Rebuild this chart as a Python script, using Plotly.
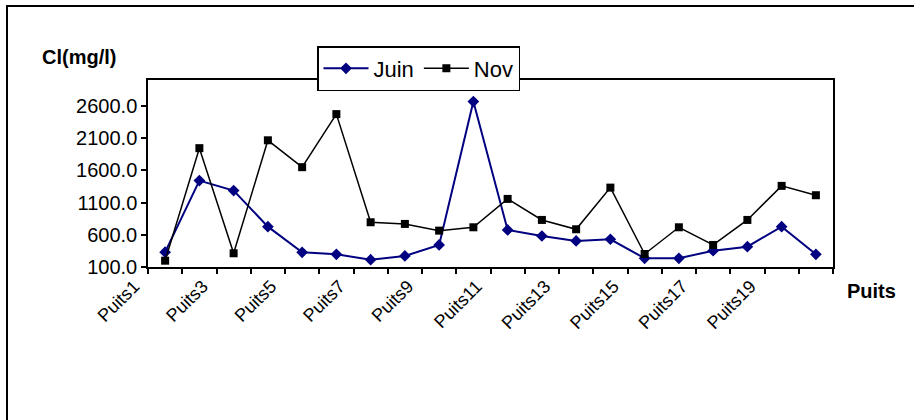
import plotly.graph_objects as go

# Chloride concentration (mg/l) per well, June and November campaigns
puits = [f"Puits{i}" for i in range(1, 21)]
juin = [330, 1440, 1285, 726, 328, 297, 213, 271, 442, 2665,
        675, 581, 504, 530, 235, 235, 353, 415, 726, 297]
nov = [198, 1943, 313, 2065, 1648, 2471, 794, 768, 664, 716,
       1156, 830, 685, 1331, 302, 716, 442, 830, 1358, 1213]

# Only every other well is labelled on the category axis
tick_text = [p if i % 2 == 0 else "" for i, p in enumerate(puits)]
y_ticks = [100, 600, 1100, 1600, 2100, 2600]

FONT = "Liberation Sans, Arial, sans-serif"
W, H = 914, 420
L, R, T, B = 148, 81, 80, 153
PW, PH = W - L - R, H - T - B


def px_x(x):
    return (x - L) / PW


def px_y(y):
    return (H - B - y) / PH


fig = go.Figure()
fig.add_trace(go.Scatter(
    x=puits, y=juin, name="Juin", mode="lines+markers",
    line=dict(color="#000080", width=2),
    marker=dict(symbol="diamond", size=9, color="#000080"),
))
fig.add_trace(go.Scatter(
    x=puits, y=nov, name="Nov", mode="lines+markers",
    line=dict(color="#000000", width=1.5),
    marker=dict(symbol="square", size=8, color="#000000"),
))

fig.update_layout(
    width=W, height=H,
    margin=dict(l=L, r=R, t=T, b=B, pad=0),
    paper_bgcolor="white", plot_bgcolor="white",
    font=dict(family=FONT, size=18, color="black"),
    showlegend=True,
    legend=dict(
        orientation="h", x=px_x(317), y=px_y(46),
        xanchor="left", yanchor="top",
        bgcolor="white", bordercolor="black", borderwidth=1.5,
        font=dict(family=FONT, size=22, color="black"),
        itemwidth=45, tracegroupgap=0,
    ),
    xaxis=dict(
        type="category", range=[-0.5, 19.5],
        tickmode="array", tickvals=puits, ticktext=tick_text,
        tickson="boundaries", ticks="outside", ticklen=5,
        tickcolor="black", tickwidth=1.5,
        tickangle=-45, ticklabelshift=-31,
        tickfont=dict(family=FONT, size=18, color="black"),
        showline=True, linecolor="black", linewidth=1.5, mirror=True,
        showgrid=False, zeroline=False,
    ),
    yaxis=dict(
        range=[100, 3000],
        tickmode="array", tickvals=y_ticks, tickformat=".1f",
        ticks="outside", ticklen=5, tickcolor="black", tickwidth=1.5,
        tickfont=dict(family=FONT, size=20, color="black"),
        showline=True, linecolor="black", linewidth=1.5, mirror=True,
        showgrid=False, zeroline=False,
    ),
    shapes=[dict(
        type="rect", xref="paper", yref="paper",
        x0=px_x(7), x1=px_x(918), y0=px_y(424), y1=px_y(6),
        line=dict(color="black", width=2), fillcolor="rgba(0,0,0,0)",
        layer="below",
    )],
    annotations=[
        dict(text="<b>Cl(mg/l)</b>", xref="paper", yref="paper",
             x=px_x(40), y=px_y(57), xanchor="left", yanchor="middle",
             showarrow=False, font=dict(family=FONT, size=20, color="black")),
        dict(text="<b>Puits</b>", xref="paper", yref="paper",
             x=px_x(845), y=px_y(291), xanchor="left", yanchor="middle",
             showarrow=False, font=dict(family=FONT, size=20, color="black")),
    ],
)

fig.write_html("out.html")
